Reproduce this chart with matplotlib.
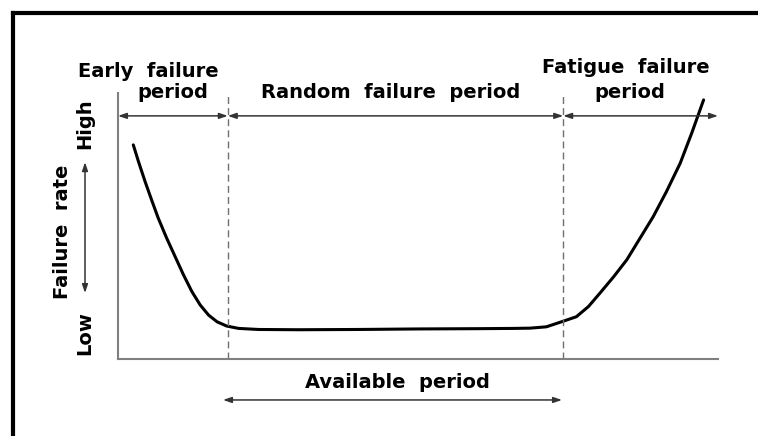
# Bathtub curve: failure rate over time
import matplotlib.pyplot as plt
from matplotlib.lines import Line2D

# curve (time 0-100, failure rate 0-100)
time = [2.55, 3.4, 4.5, 5.6, 6.7, 8.1, 9.5, 10.9, 12.3, 13.7, 15.1, 16.5,
        18.1, 20.1, 23.4, 30.0, 40.0, 50.0, 60.0, 66.0, 68.7, 71.4, 74.2,
        76.4, 78.4, 80.3, 82.6, 84.8, 87.0, 89.2, 91.4, 93.7, 95.6, 97.6]
rate = [80.5, 74.3, 66.8, 59.8, 53.0, 45.5, 38.6, 31.7, 25.4, 20.3, 16.5, 14.0,
        12.4, 11.5, 11.1, 11.0, 11.1, 11.3, 11.4, 11.5, 11.6, 12.1, 14.2,
        15.9, 19.7, 24.7, 30.9, 37.3, 45.4, 53.5, 62.9, 73.6, 84.8, 97.4]

bounds = [0, 18.3, 74.2, 100]          # period boundaries
period_y = 91.4
available = [17.5, 74.0]

fig = plt.figure(figsize=(7.58, 4.36), dpi=100)
ax = fig.add_axes([118 / 758, 77 / 436, 600 / 758, 266 / 436])
ax.set_xlim(0, 100)
ax.set_ylim(0, 100)
for s in ['top', 'right']:
    ax.spines[s].set_visible(False)
for s in ['left', 'bottom']:
    ax.spines[s].set_color('#808080')
    ax.spines[s].set_linewidth(1.5)
ax.set_xticks([])
ax.set_yticks([])

ax.plot(time, rate, color='black', lw=2.2, solid_capstyle='round',
        solid_joinstyle='round', clip_on=False)

for b in bounds[1:3]:
    ax.plot([b, b], [0, 100], color='#707070', lw=1.0, linestyle=(0, (5, 3)))

arrow = dict(arrowstyle='<|-|>,head_length=0.5,head_width=0.17', color='#333333',
             lw=1.1, shrinkA=0, shrinkB=0)
for a, b in zip(bounds[:-1], bounds[1:]):
    ax.annotate('', xy=(a, period_y), xytext=(b, period_y), arrowprops=arrow,
                annotation_clip=False)

ax.annotate('', xy=(available[0], -15.4), xytext=(available[1], -15.4),
            arrowprops=arrow, annotation_clip=False)

txt = dict(fontsize=14, color='black', ha='center', va='baseline',
           fontweight='bold', clip_on=False)
ax.text(5.0, 106, 'Early  failure', **txt)
ax.text(9.2, 98.1, 'period', **txt)
ax.text(45.5, 98.1, 'Random  failure  period', **txt)
ax.text(84.7, 107.5, 'Fatigue  failure', **txt)
ax.text(85.3, 98.1, 'period', **txt)
ax.text(46.6, -10.9, 'Available  period', **txt)

side = dict(fontsize=14, fontweight='bold', rotation=90, ha='center',
            va='center', clip_on=False)
ax.text(-9.3, 48, 'Failure  rate', **side)
ax.text(-5.5, 9.8, 'Low', **side)
ax.text(-5.5, 88.3, 'High', **side)
ax.annotate('', xy=(-5.5, 24.8), xytext=(-5.5, 74), arrowprops=arrow,
            annotation_clip=False)

# frame on left and top
fig.add_artist(Line2D([13 / 758, 13 / 758], [0, 1 - 13 / 436], color='black', lw=3))
fig.add_artist(Line2D([13 / 758, 1], [1 - 13 / 436, 1 - 13 / 436], color='black', lw=3))

plt.savefig('out.png', dpi=100)
